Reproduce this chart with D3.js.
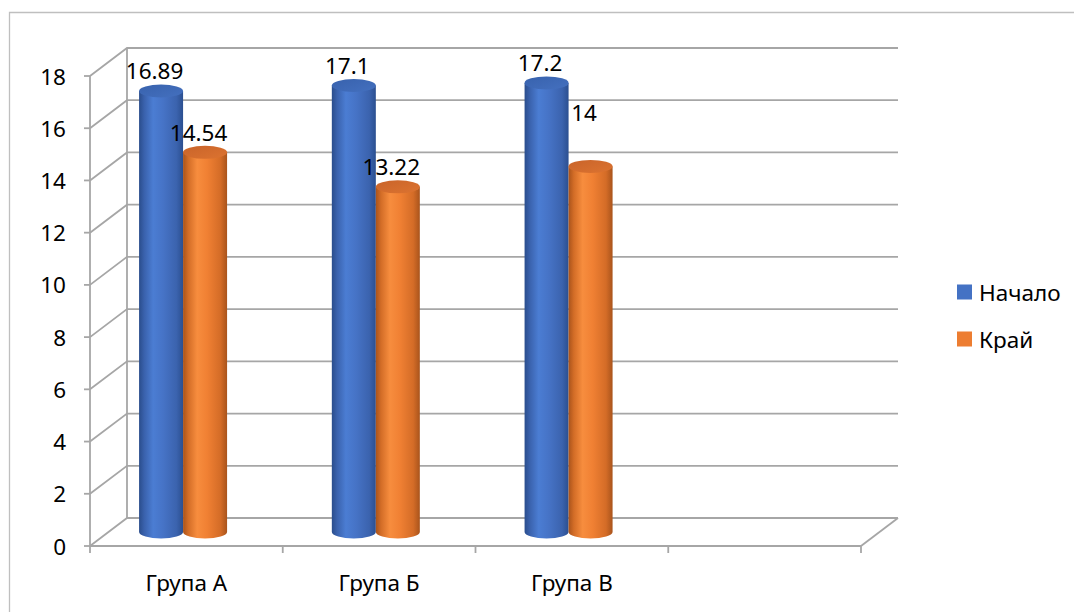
<!DOCTYPE html>
<html><head><meta charset="utf-8">
<script src="https://cdn.jsdelivr.net/npm/d3@7/dist/d3.min.js"></script>
<style>html,body{margin:0;padding:0;background:#fff}svg{display:block}</style>
</head><body>
<svg id="c" width="1074" height="612"></svg>
<script>
const categories = ["Група А", "Група Б", "Група В", ""];
const seriesNames = ["Начало", "Край"];
const nachalo = [16.89, 17.1, 17.2];
const kray = [14.54, 13.22, 14];
const yTicks = [0, 2, 4, 6, 8, 10, 12, 14, 16, 18];
const seriesColors = ["#4472C4", "#ED7D31"];

const svg = d3.select("#c");
const font = "'Noto Sans', sans-serif";
const fs = 22.5;
const grid = "#a6a6a6";

// outer chart border (top + left)
svg.append("path").attr("d", "M9.5,612 L9.5,12.5 L1074,12.5").attr("fill", "none").attr("stroke", "#bfbfbf").attr("stroke-width", 1.3);

const DX = 37, DY = -28;
const x = d3.scaleBand().domain(categories).range([90, 861]);
const yF = d3.scaleLinear().domain([0, 18]).range([546, 76]);
const yM = d3.scaleLinear().domain([0, 18]).range([532, 62]);

// side wall diagonals and back wall gridlines
const g = svg.append("g").attr("fill", "none").attr("stroke", grid).attr("stroke-width", 1.8);
yTicks.forEach(t => {
  const yf = yF(t), yb = yf + DY;
  g.append("path").attr("d", `M90,${yf} L${90 + DX},${yb} L${861 + DX},${yb}`);
});
// back vertical edge of side wall
g.append("line").attr("x1", 90 + DX).attr("x2", 90 + DX).attr("y1", yF(18) + DY).attr("y2", yF(0) + DY);
// floor right diagonal
g.append("line").attr("x1", 861 + DX).attr("y1", yF(0) + DY).attr("x2", 861).attr("y2", yF(0));
// front axes
g.append("line").attr("x1", 90).attr("x2", 90).attr("y1", yF(18)).attr("y2", yF(0));
g.append("line").attr("x1", 90).attr("x2", 861).attr("y1", yF(0)).attr("y2", yF(0));
// y tick marks
yTicks.forEach(t => g.append("line").attr("x1", 84).attr("x2", 90).attr("y1", yF(t)).attr("y2", yF(t)));
// x tick marks
const xEdges = categories.map(c => x(c)).concat([861]);
xEdges.forEach(v => g.append("line").attr("x1", v).attr("x2", v).attr("y1", yF(0)).attr("y2", yF(0) + 7));

// tick labels
svg.append("g").selectAll("text").data(yTicks).join("text")
  .attr("x", 66).attr("y", d => yF(d)).attr("text-anchor", "end").attr("dominant-baseline", "central")
  .attr("font-family", font).attr("font-size", fs).attr("fill", "#000").text(d => d);

svg.append("g").selectAll("text").data(categories).join("text")
  .attr("x", d => x(d) + x.bandwidth() / 2).attr("y", 591).attr("text-anchor", "middle")
  .attr("font-family", font).attr("font-size", fs).attr("fill", "#000").text(d => d);

// gradients
const defs = svg.append("defs");
const gradStops = [
  [["0%", "#2a4d8c"], ["12%", "#3a62ad"], ["32%", "#4b7dd3"], ["55%", "#4673c6"], ["85%", "#3b63ae"], ["100%", "#2b4f90"]],
  [["0%", "#a9531b"], ["12%", "#d36d27"], ["32%", "#f78d3e"], ["55%", "#f08033"], ["85%", "#d46c27"], ["100%", "#a9541c"]]
];
const topCols = [["#3862ad", "#4470bf"], ["#c9642a", "#dc7330"]];
gradStops.forEach((st, i) => {
  const lg = defs.append("linearGradient").attr("id", "body" + i).attr("x1", "0").attr("x2", "1").attr("y1", "0").attr("y2", "0");
  st.forEach(s => lg.append("stop").attr("offset", s[0]).attr("stop-color", s[1]));
  const tg = defs.append("linearGradient").attr("id", "top" + i).attr("x1", "0").attr("x2", "1").attr("y1", "0").attr("y2", "1");
  tg.append("stop").attr("offset", "0%").attr("stop-color", topCols[i][0]);
  tg.append("stop").attr("offset", "100%").attr("stop-color", topCols[i][1]);
});

// cylinders
const sub = d3.scaleBand().domain(seriesNames).range([-44, 44]);
const series = [nachalo, kray];
const RY = 6.5;
const labelNudge = [[0, 0, 0], [0, 0, -34]];
const cg = svg.append("g");
const lg2 = svg.append("g");
categories.slice(0, 3).forEach((cat, ci) => {
  const pc = x(cat) + x.bandwidth() / 2 - 3.3;
  series.forEach((vals, si) => {
    const v = vals[ci];
    const left = pc + sub(seriesNames[si]);
    const w = sub.bandwidth();
    const rx = w / 2;
    const yt = yM(v), yb = yM(0);
    cg.append("path")
      .attr("d", `M${left},${yt} L${left},${yb} A${rx},${RY} 0 0 0 ${left + w},${yb} L${left + w},${yt} Z`)
      .attr("fill", `url(#body${si})`);
    cg.append("ellipse").attr("cx", left + rx).attr("cy", yt).attr("rx", rx).attr("ry", RY)
      .attr("fill", `url(#top${si})`);
    lg2.append("text").attr("x", left + rx - 6.5).attr("y", yt - 20 + labelNudge[si][ci])
      .attr("text-anchor", "middle").attr("dominant-baseline", "central")
      .attr("font-family", font).attr("font-size", fs).attr("fill", "#000").text(v);
  });
});

// legend
const leg = svg.append("g");
seriesNames.forEach((n, i) => {
  const cy = 292 + i * 47;
  leg.append("rect").attr("x", 957).attr("y", cy - 7.5).attr("width", 15).attr("height", 15).attr("fill", seriesColors[i]);
  leg.append("text").attr("x", 979).attr("y", cy).attr("dominant-baseline", "central")
    .attr("font-family", font).attr("font-size", fs).attr("fill", "#000").text(n);
});
</script>
</body></html>
